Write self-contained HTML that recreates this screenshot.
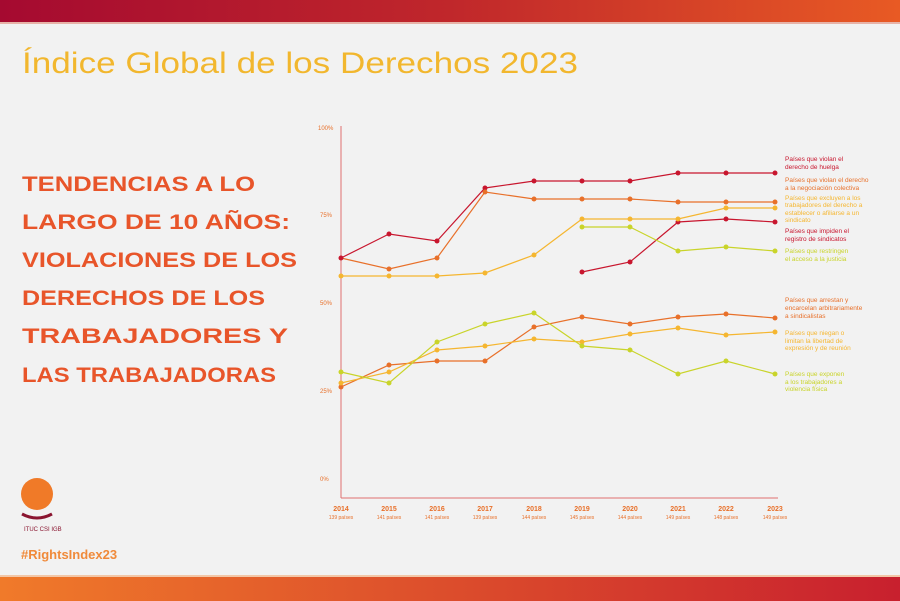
<!DOCTYPE html>
<html><head><meta charset="utf-8"><style>
html,body{margin:0;padding:0;background:#f2f2f2;}
svg{display:block;font-family:"Liberation Sans",sans-serif;}
</style></head><body>
<svg width="900" height="601" viewBox="0 0 900 601" xmlns="http://www.w3.org/2000/svg">
<defs>
<linearGradient id="tg" x1="0" x2="1"><stop offset="0" stop-color="#a50a30"/><stop offset="0.5" stop-color="#c0272b"/><stop offset="1" stop-color="#e85a24"/></linearGradient>
<linearGradient id="bg" x1="0" x2="1"><stop offset="0" stop-color="#f07a2a"/><stop offset="1" stop-color="#c8202e"/></linearGradient>
</defs>
<rect width="900" height="601" fill="#f2f2f2"/>
<rect width="900" height="22" fill="url(#tg)"/>
<rect y="22" width="900" height="2" fill="#e7b3a8"/>
<rect y="577" width="900" height="24" fill="url(#bg)"/>
<rect y="575" width="900" height="2" fill="#f2c7a8"/>
<text x="22" y="73" font-size="30" fill="#f2b72e" textLength="556" lengthAdjust="spacingAndGlyphs">Índice Global de los Derechos 2023</text>
<g font-size="21" font-weight="bold" fill="#e8552a">
<text x="22" y="191" textLength="233" lengthAdjust="spacingAndGlyphs">TENDENCIAS A LO</text>
<text x="22" y="229" textLength="268" lengthAdjust="spacingAndGlyphs">LARGO DE 10 AÑOS:</text>
<text x="22" y="267" textLength="275" lengthAdjust="spacingAndGlyphs">VIOLACIONES DE LOS</text>
<text x="22" y="305" textLength="243" lengthAdjust="spacingAndGlyphs">DERECHOS DE LOS</text>
<text x="22" y="343" textLength="266" lengthAdjust="spacingAndGlyphs">TRABAJADORES Y</text>
<text x="22" y="382" textLength="254" lengthAdjust="spacingAndGlyphs">LAS TRABAJADORAS</text>
</g>
<circle cx="37" cy="494" r="16" fill="#f07a28"/>
<path d="M22 514 Q37 522 52 514" stroke="#8a1530" stroke-width="3" fill="none"/>
<text x="24" y="531" font-size="6" fill="#8a1530">ITUC CSI IGB</text>
<text x="21" y="559" font-size="13" font-weight="bold" fill="#f08a3a">#RightsIndex23</text>
<!-- axes -->
<g font-size="6" fill="#e8702a">
<text x="318" y="130">100%</text><text x="320" y="217">75%</text><text x="320" y="305">50%</text><text x="320" y="393">25%</text><text x="320" y="481">0%</text>
</g>
<line x1="341" y1="126" x2="341" y2="498" stroke="#e07070" stroke-width="1"/>
<line x1="341" y1="498" x2="778" y2="498" stroke="#e07070" stroke-width="1"/>
<g font-size="7" font-weight="bold" fill="#e8702a" text-anchor="middle">
<text x="341" y="511">2014</text><text x="389" y="511">2015</text><text x="437" y="511">2016</text><text x="485" y="511">2017</text><text x="534" y="511">2018</text><text x="582" y="511">2019</text><text x="630" y="511">2020</text><text x="678" y="511">2021</text><text x="726" y="511">2022</text><text x="775" y="511">2023</text>
</g>
<g font-size="5" fill="#e8702a" text-anchor="middle">
<text x="341" y="519">139 países</text><text x="389" y="519">141 países</text><text x="437" y="519">141 países</text><text x="485" y="519">139 países</text><text x="534" y="519">144 países</text><text x="582" y="519">145 países</text><text x="630" y="519">144 países</text><text x="678" y="519">149 países</text><text x="726" y="519">148 países</text><text x="775" y="519">149 países</text>
</g>
<g fill="none" stroke-width="1.2">
<polyline stroke="#c8162e" points="341,258 389,234 437,241 485,188 534,181 582,181 630,181 678,173 726,173 775,173"/>
<polyline stroke="#e8702a" points="341,258 389,269 437,258 485,192 534,199 582,199 630,199 678,202 726,202 775,202"/>
<polyline stroke="#f5b630" points="341,276 389,276 437,276 485,273 534,255 582,219 630,219 678,219 726,208 775,208"/>
<polyline stroke="#c8162e" points="582,272 630,262 678,222 726,219 775,222"/>
<polyline stroke="#c9d42a" points="582,227 630,227 678,251 726,247 775,251"/>
<polyline stroke="#e8702a" points="341,387 389,365 437,361 485,361 534,327 582,317 630,324 678,317 726,314 775,318"/>
<polyline stroke="#f5b630" points="341,383 389,372 437,350 485,346 534,339 582,342 630,334 678,328 726,335 775,332"/>
<polyline stroke="#c9d42a" points="341,372 389,383 437,342 485,324 534,313 582,346 630,350 678,374 726,361 775,374"/>
</g>
<g fill="#c8162e"><circle cx="341" cy="258" r="2.5"/><circle cx="389" cy="234" r="2.5"/><circle cx="437" cy="241" r="2.5"/><circle cx="485" cy="188" r="2.5"/><circle cx="534" cy="181" r="2.5"/><circle cx="582" cy="181" r="2.5"/><circle cx="630" cy="181" r="2.5"/><circle cx="678" cy="173" r="2.5"/><circle cx="726" cy="173" r="2.5"/><circle cx="775" cy="173" r="2.5"/>
<circle cx="582" cy="272" r="2.5"/><circle cx="630" cy="262" r="2.5"/><circle cx="678" cy="222" r="2.5"/><circle cx="726" cy="219" r="2.5"/><circle cx="775" cy="222" r="2.5"/></g>
<g fill="#e8702a"><circle cx="389" cy="269" r="2.5"/><circle cx="437" cy="258" r="2.5"/><circle cx="485" cy="192" r="2.5"/><circle cx="534" cy="199" r="2.5"/><circle cx="582" cy="199" r="2.5"/><circle cx="630" cy="199" r="2.5"/><circle cx="678" cy="202" r="2.5"/><circle cx="726" cy="202" r="2.5"/><circle cx="775" cy="202" r="2.5"/>
<circle cx="341" cy="387" r="2.5"/><circle cx="389" cy="365" r="2.5"/><circle cx="437" cy="361" r="2.5"/><circle cx="485" cy="361" r="2.5"/><circle cx="534" cy="327" r="2.5"/><circle cx="582" cy="317" r="2.5"/><circle cx="630" cy="324" r="2.5"/><circle cx="678" cy="317" r="2.5"/><circle cx="726" cy="314" r="2.5"/><circle cx="775" cy="318" r="2.5"/></g>
<g fill="#f5b630"><circle cx="341" cy="276" r="2.5"/><circle cx="389" cy="276" r="2.5"/><circle cx="437" cy="276" r="2.5"/><circle cx="485" cy="273" r="2.5"/><circle cx="534" cy="255" r="2.5"/><circle cx="582" cy="219" r="2.5"/><circle cx="630" cy="219" r="2.5"/><circle cx="678" cy="219" r="2.5"/><circle cx="726" cy="208" r="2.5"/><circle cx="775" cy="208" r="2.5"/>
<circle cx="341" cy="383" r="2.5"/><circle cx="389" cy="372" r="2.5"/><circle cx="437" cy="350" r="2.5"/><circle cx="485" cy="346" r="2.5"/><circle cx="534" cy="339" r="2.5"/><circle cx="582" cy="342" r="2.5"/><circle cx="630" cy="334" r="2.5"/><circle cx="678" cy="328" r="2.5"/><circle cx="726" cy="335" r="2.5"/><circle cx="775" cy="332" r="2.5"/></g>
<g fill="#c9d42a"><circle cx="582" cy="227" r="2.5"/><circle cx="630" cy="227" r="2.5"/><circle cx="678" cy="251" r="2.5"/><circle cx="726" cy="247" r="2.5"/><circle cx="775" cy="251" r="2.5"/>
<circle cx="341" cy="372" r="2.5"/><circle cx="389" cy="383" r="2.5"/><circle cx="437" cy="342" r="2.5"/><circle cx="485" cy="324" r="2.5"/><circle cx="534" cy="313" r="2.5"/><circle cx="582" cy="346" r="2.5"/><circle cx="630" cy="350" r="2.5"/><circle cx="678" cy="374" r="2.5"/><circle cx="726" cy="361" r="2.5"/><circle cx="775" cy="374" r="2.5"/></g>
<!-- labels -->
<g font-size="6.5">
<g fill="#c8162e"><text x="785" y="161">Países que violan el</text><text x="785" y="169">derecho de huelga</text></g>
<g fill="#e8702a"><text x="785" y="182">Países que violan el derecho</text><text x="785" y="190">a la negociación colectiva</text></g>
<g fill="#f5b630"><text x="785" y="200">Países que excluyen a los</text><text x="785" y="207">trabajadores del derecho a</text><text x="785" y="215">establecer o afiliarse a un</text><text x="785" y="222">sindicato</text></g>
<g fill="#c8162e"><text x="785" y="233">Países que impiden el</text><text x="785" y="241">registro de sindicatos</text></g>
<g fill="#c9d42a"><text x="785" y="253">Países que restringen</text><text x="785" y="261">el acceso a la justicia</text></g>
<g fill="#e8702a"><text x="785" y="302">Países que arrestan y</text><text x="785" y="310">encarcelan arbitrariamente</text><text x="785" y="318">a sindicalistas</text></g>
<g fill="#f5b630"><text x="785" y="335">Países que niegan o</text><text x="785" y="343">limitan la libertad de</text><text x="785" y="350">expresión y de reunión</text></g>
<g fill="#c9d42a"><text x="785" y="376">Países que exponen</text><text x="785" y="384">a los trabajadores a</text><text x="785" y="391">violencia física</text></g>
</g>
</svg>
</body></html>
